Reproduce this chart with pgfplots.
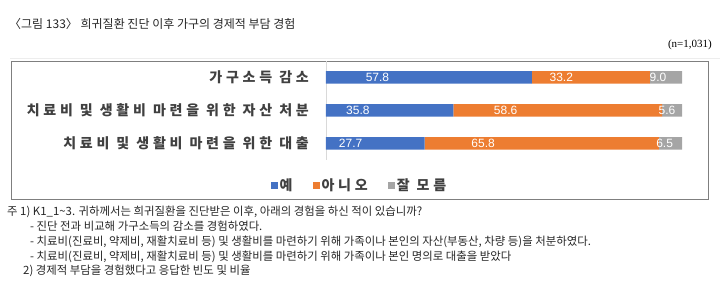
\documentclass[border=0pt]{standalone}
\usepackage{fontspec}
\usepackage{pgfplots}
\usepackage{pgfplotstable}
\pgfplotsset{compat=1.18}
\setmainfont{Liberation Sans}
\newfontfamily\kr{Noto Sans CJK KR}
\newfontfamily\krs{Noto Sans CJK KR}[LetterSpace=27]
\newfontfamily\serif{Liberation Serif}
\definecolor{cyes}{HTML}{4472C4}
\definecolor{cno}{HTML}{ED7D31}
\definecolor{cdk}{HTML}{A5A5A5}
\definecolor{frm}{HTML}{7F7F7F}
\definecolor{txt}{HTML}{404040}
\pgfplotsset{sqlegend/.style={legend image code/.code={\fill[##1] (0pt,-3.5pt) rectangle (7pt,3.5pt);}}}
\pgfplotstableread{
pos yes no dk
2 57.8 33.2 9.0
1 35.8 58.6 5.6
0 27.7 65.8 6.5
}\data
\begin{document}
\begin{tikzpicture}[x=1pt,y=1pt]
\useasboundingbox (0,0) rectangle (720,296);
\node[anchor=west,inner sep=0pt,font=\kr\fontsize{12}{14}\selectfont,text=black!85] at (9,272) {〈그림 133〉 희귀질환 진단 이후 가구의 경제적 부담 경험};
\draw[black!7] (10,238) -- (720,238);
\node[anchor=east,inner sep=0pt,font=\serif\fontsize{11}{13}\selectfont] at (712,251) {(n=1,031)};
\draw[frm, line width=0.9pt] (11,235) rectangle (708,97);
\begin{axis}[
  at={(326pt,136pt)}, anchor=south west, scale only axis,
  width=356pt, height=99pt,
  xbar stacked, bar width=12.5pt,
  xmin=0, xmax=100, ymin=-0.5, ymax=2.5,
  hide x axis, axis y line*=left,
  y axis line style={draw=black!15},
  ytick={0,1,2}, major tick length=0pt,
  yticklabels={치료비 및 생활비 마련을 위한 대출, 치료비 및 생활비 마련을 위한 자산 처분, 가구소득 감소},
  yticklabel style={font=\krs\bfseries\fontsize{14}{16}\selectfont, text=txt, anchor=east, inner sep=0pt, xshift=-17pt},
  point meta=explicit symbolic,
  visualization depends on={rawx \as \rawxval},
  nodes near coords={\pgfplotspointmeta},
  every node near coord/.append style={anchor=center, text=white, font=\fontsize{12}{14}\selectfont, xshift={-0.89*\rawxval}},
  legend columns=3,
  legend style={at={(axis description cs:0.094,-0.253)}, anchor=center, draw=none, fill=none,
     font=\krs\bfseries\fontsize{14}{16}\selectfont, text=txt,
     /tikz/every even column/.append style={column sep=18pt}},
]
\addplot[fill=cyes, draw=none, sqlegend] table[x=yes, y=pos, meta=yes] {\data};
\addplot[fill=cno, draw=none, sqlegend] table[x=no, y=pos, meta=no] {\data};
\addplot[fill=cdk, draw=none, sqlegend] table[x=dk, y=pos, meta=dk] {\data};
\legend{예, 아니오, 잘 모름}
\end{axis}
\begin{scope}[every node/.style={anchor=west, inner sep=0pt, font=\kr\fontsize{11.4}{13}\selectfont, text=black!85}]
\node at (7,84) {주 1) K1\_1\textasciitilde3. 귀하께서는 희귀질환을 진단받은 이후, 아래의 경험을 하신 적이 있습니까?};
\node at (30,70) {- 진단 전과 비교해 가구소득의 감소를 경험하였다.};
\node at (30,54) {- 치료비(진료비, 약제비, 재활치료비 등) 및 생활비를 마련하기 위해 가족이나 본인의 자산(부동산, 차량 등)을 처분하였다.};
\node at (30,39) {- 치료비(진료비, 약제비, 재활치료비 등) 및 생활비를 마련하기 위해 가족이나 본인 명의로 대출을 받았다};
\node at (23,25) {2) 경제적 부담을 경험했다고 응답한 빈도 및 비율};
\end{scope}
\end{tikzpicture}
\end{document}
